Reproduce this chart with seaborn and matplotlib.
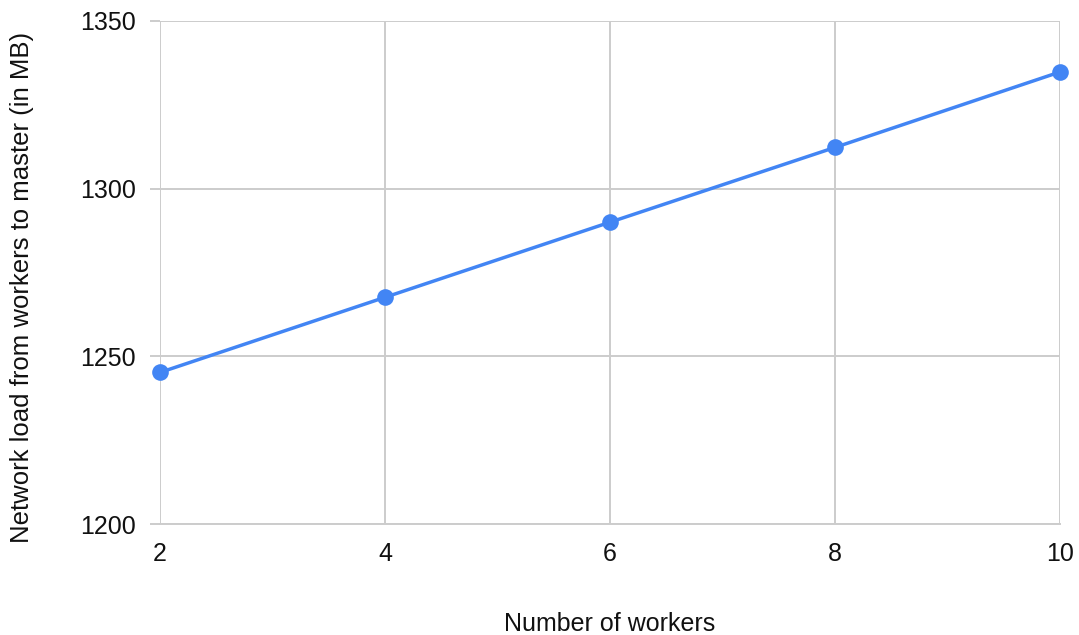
import matplotlib
matplotlib.use("Agg")
import matplotlib.pyplot as plt
import seaborn as sns
import pandas as pd

# Network load measured for each cluster size
workers = [2, 4, 6, 8, 10]
load_mb = [1245.2, 1267.6, 1290.0, 1312.3, 1334.8]
y_ticks = [1200, 1250, 1300, 1350]
x_ticks = [2, 4, 6, 8, 10]

sns.set_theme(style="white")
plt.rcParams["font.family"] = ["Liberation Sans", "DejaVu Sans"]

df = pd.DataFrame({"workers": workers, "load": load_mb})

fig = plt.figure(figsize=(10.79, 6.35), dpi=100)
ax = fig.add_axes([160 / 1079, 1 - 524 / 635, 900 / 1079, 503 / 635])

grid_color = "#cccccc"
text_color = "#111111"
sns.lineplot(data=df, x="workers", y="load", ax=ax, color="#4285F4",
             linewidth=2.5, marker="o", markersize=12,
             markeredgewidth=0, zorder=3, clip_on=False)

ax.set_xlim(2, 10)
ax.set_ylim(1200, 1350)
ax.set_xticks(x_ticks)
ax.set_xticklabels([str(v) for v in x_ticks])
ax.set_yticks(y_ticks)
ax.set_yticklabels([str(v) for v in y_ticks])

ax.grid(True, color=grid_color, linewidth=1.4)
for side in ["top", "right", "left"]:
    ax.spines[side].set_visible(False)
ax.spines["bottom"].set_color(grid_color)
ax.spines["bottom"].set_linewidth(1.4)

ax.tick_params(axis="y", length=7.2, width=1.4, color=grid_color, pad=10,
               labelsize=18, labelcolor=text_color, left=True)
ax.tick_params(axis="x", length=0, pad=13, labelsize=18, labelcolor=text_color)

ax.set_xlabel("Number of workers", fontsize=18, color=text_color)
ax.set_ylabel("Network load from workers to master (in MB)", fontsize=18.5,
              color=text_color)
ax.xaxis.set_label_coords(0.5, -0.199)
ax.xaxis.label.set_va("center")
ax.yaxis.set_label_coords(-0.153, 0.47)
ax.yaxis.label.set_va("center")

fig.savefig("out.png", dpi=100, facecolor="white")
